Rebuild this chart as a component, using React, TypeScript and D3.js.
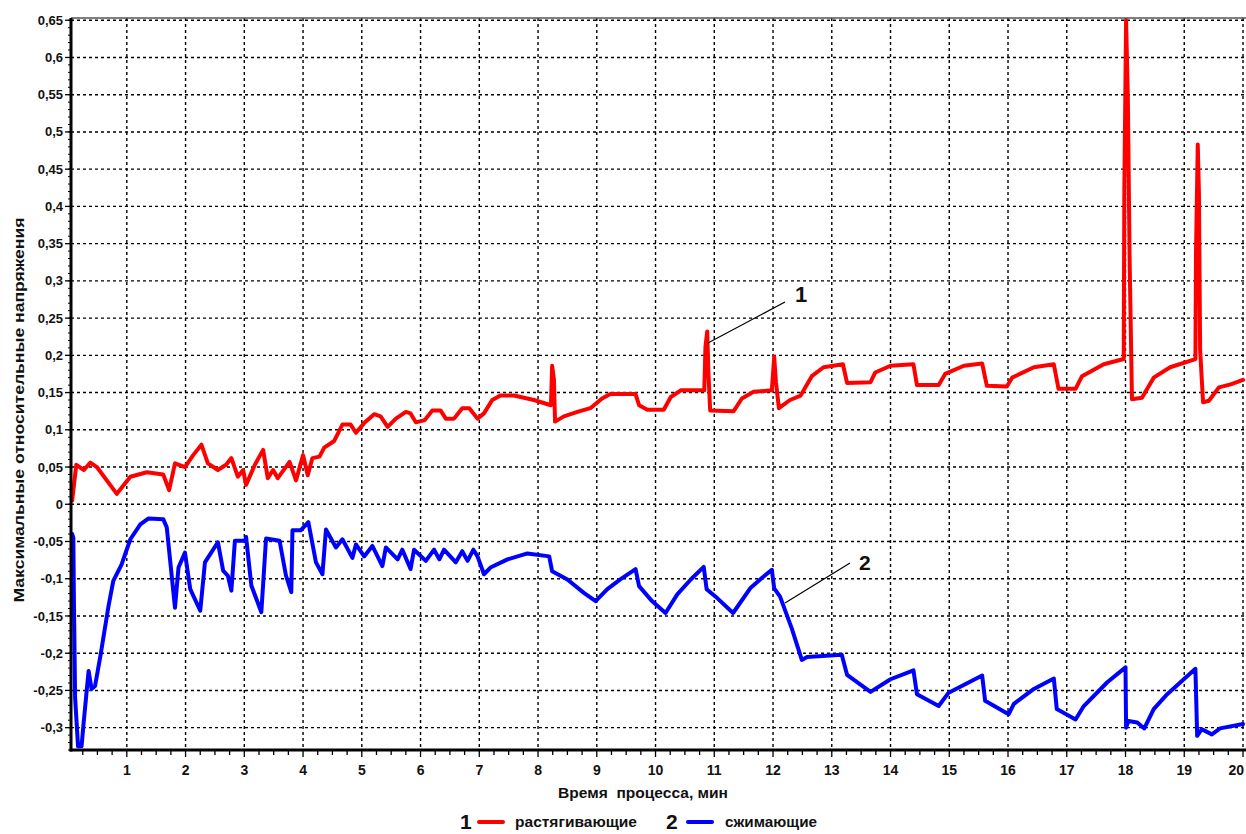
import React from "react";
import * as d3 from "d3";

const tensile: [number, number][] = [
  [0.07, 0.005], [0.14, 0.053], [0.27, 0.046], [0.38, 0.056], [0.49, 0.05], [0.83, 0.014],
  [1.06, 0.037], [1.34, 0.043], [1.62, 0.04], [1.72, 0.019], [1.82, 0.055], [1.99, 0.05],
  [2.13, 0.066], [2.27, 0.08], [2.38, 0.055], [2.55, 0.046], [2.69, 0.053], [2.78, 0.062],
  [2.89, 0.037], [2.98, 0.046], [3.03, 0.026], [3.18, 0.053], [3.32, 0.073], [3.4, 0.035],
  [3.49, 0.046], [3.57, 0.035], [3.77, 0.057], [3.88, 0.032], [4.0, 0.066], [4.08, 0.039],
  [4.16, 0.062], [4.28, 0.064], [4.36, 0.076], [4.53, 0.085], [4.67, 0.107], [4.81, 0.107],
  [4.9, 0.096], [5.04, 0.109], [5.21, 0.121], [5.32, 0.118], [5.44, 0.104], [5.58, 0.115],
  [5.75, 0.124], [5.83, 0.122], [5.92, 0.11], [6.07, 0.113], [6.2, 0.126], [6.34, 0.126],
  [6.43, 0.115], [6.57, 0.115], [6.71, 0.129], [6.83, 0.129], [6.97, 0.115], [7.08, 0.122],
  [7.22, 0.14], [7.36, 0.146], [7.59, 0.146], [7.93, 0.14], [8.22, 0.133], [8.24, 0.186],
  [8.27, 0.168], [8.29, 0.111], [8.44, 0.118], [8.67, 0.124], [8.89, 0.129], [9.09, 0.142],
  [9.23, 0.148], [9.66, 0.148], [9.72, 0.133], [9.86, 0.127], [10.14, 0.127], [10.26, 0.144],
  [10.43, 0.153], [10.83, 0.153], [10.85, 0.212], [10.88, 0.232], [10.9, 0.177], [10.93, 0.126],
  [11.33, 0.125], [11.47, 0.142], [11.67, 0.151], [11.98, 0.153], [12.02, 0.198], [12.05, 0.164],
  [12.1, 0.129], [12.29, 0.14], [12.47, 0.146], [12.66, 0.172], [12.86, 0.184], [13.19, 0.188],
  [13.26, 0.163], [13.66, 0.164], [13.74, 0.177], [14.0, 0.186], [14.39, 0.188], [14.45, 0.16],
  [14.82, 0.16], [14.93, 0.175], [15.25, 0.186], [15.56, 0.189], [15.64, 0.159], [15.98, 0.158],
  [16.07, 0.17], [16.44, 0.184], [16.78, 0.188], [16.86, 0.155], [17.15, 0.155], [17.26, 0.172],
  [17.63, 0.188], [17.97, 0.195], [17.98, 0.423], [18.01, 0.65], [18.04, 0.544], [18.07, 0.329],
  [18.11, 0.141], [18.28, 0.143], [18.48, 0.17], [18.76, 0.184], [19.19, 0.195], [19.2, 0.338],
  [19.23, 0.483], [19.25, 0.418], [19.27, 0.208], [19.32, 0.137], [19.42, 0.139], [19.59, 0.157],
  [19.79, 0.161], [20.0, 0.167],
];

const compressive: [number, number][] = [
  [0.07, -0.04], [0.09, -0.045], [0.1, -0.13], [0.12, -0.26], [0.17, -0.325], [0.23, -0.325],
  [0.26, -0.298], [0.32, -0.248], [0.35, -0.224], [0.4, -0.248], [0.46, -0.244], [0.55, -0.204],
  [0.69, -0.136], [0.77, -0.103], [0.91, -0.081], [1.06, -0.047], [1.23, -0.027], [1.37, -0.019],
  [1.62, -0.02], [1.68, -0.031], [1.82, -0.139], [1.88, -0.085], [1.99, -0.065], [2.08, -0.114],
  [2.25, -0.143], [2.33, -0.078], [2.55, -0.051], [2.64, -0.089], [2.72, -0.096], [2.78, -0.116],
  [2.84, -0.049], [3.01, -0.049], [3.03, -0.044], [3.12, -0.109], [3.29, -0.145], [3.37, -0.046],
  [3.6, -0.049], [3.71, -0.096], [3.8, -0.118], [3.82, -0.035], [3.96, -0.035], [4.09, -0.024],
  [4.22, -0.078], [4.33, -0.094], [4.39, -0.034], [4.56, -0.058], [4.67, -0.047], [4.84, -0.072],
  [4.9, -0.054], [5.04, -0.07], [5.18, -0.056], [5.35, -0.083], [5.41, -0.058], [5.61, -0.074],
  [5.69, -0.061], [5.83, -0.087], [5.89, -0.061], [6.09, -0.076], [6.23, -0.061], [6.32, -0.074],
  [6.4, -0.061], [6.6, -0.078], [6.71, -0.063], [6.8, -0.076], [6.9, -0.061], [6.97, -0.07],
  [7.08, -0.094], [7.19, -0.085], [7.48, -0.074], [7.82, -0.066], [8.19, -0.07], [8.24, -0.09],
  [8.5, -0.101], [8.78, -0.119], [8.98, -0.13], [9.18, -0.114], [9.4, -0.101], [9.66, -0.087],
  [9.72, -0.11], [9.94, -0.13], [10.17, -0.146], [10.37, -0.121], [10.6, -0.101], [10.82, -0.084],
  [10.87, -0.114], [11.05, -0.126], [11.32, -0.146], [11.62, -0.112], [11.81, -0.099], [11.98, -0.088],
  [12.02, -0.113], [12.12, -0.124], [12.32, -0.167], [12.49, -0.209], [12.58, -0.205], [13.17, -0.202],
  [13.26, -0.229], [13.66, -0.252], [14.0, -0.235], [14.39, -0.223], [14.45, -0.255], [14.82, -0.271],
  [14.99, -0.253], [15.56, -0.23], [15.61, -0.264], [16.01, -0.282], [16.1, -0.268], [16.44, -0.248],
  [16.78, -0.234], [16.83, -0.275], [17.15, -0.289], [17.29, -0.271], [17.69, -0.239], [18.0, -0.219],
  [18.01, -0.3], [18.05, -0.291], [18.2, -0.293], [18.32, -0.301], [18.48, -0.275], [18.71, -0.255],
  [19.19, -0.221], [19.22, -0.311], [19.3, -0.302], [19.47, -0.309], [19.61, -0.301], [20.0, -0.295],
];

const xTicks = d3.range(1, 21);
const xMinorTicks = d3.range(1, 81).map((i) => i * 0.25);
const yTicks = d3.range(-6, 14).map((k) => +(k * 0.05).toFixed(2));
const yMinorTicks = d3.range(-33, 66).map((k) => +(k * 0.01).toFixed(2));

const yTitle = "Максимальные относительные напряжения";
const xTitle = "Время  процесса, мин";
const seriesNames = ["растягивающие", "сжимающие"];
const seriesColors = ["#ff0000", "#0000ff"];

const W = 1246;
const H = 834;
const L = 71;
const R = 1243;
const T = 18;
const B = 750;

const FONT = "'Liberation Sans', Arial, sans-serif";

export default function App() {
  const x = d3.scaleLinear().domain([0.05, 20]).range([L, R]);
  const y = d3.scaleLinear().domain([-0.33, 0.653]).range([B, T]);
  const line = d3
    .line<[number, number]>()
    .x((d) => x(d[0]))
    .y((d) => y(d[1]));
  const fmt = (v: number) => String(v).replace(".", ",");

  return (
    <svg
      width={W}
      height={H}
      style={{ position: "absolute", left: 0, top: 0, background: "#fff" }}
      fontFamily={FONT}
    >
      <defs>
        <clipPath id="plot">
          <rect x={L} y={T} width={W - L} height={B - T} />
        </clipPath>
      </defs>
      <rect x={0} y={0} width={W} height={H} fill="#fff" />
      {/* grid */}
      <g stroke="#000" strokeWidth={1.4} strokeDasharray="3,3">
        {yTicks.map((v) => (
          <line key={"gy" + v} x1={L} x2={W} y1={y(v)} y2={y(v)} />
        ))}
        {xTicks.map((v) => (
          <line key={"gx" + v} x1={x(v)} x2={x(v)} y1={T} y2={B} />
        ))}
      </g>
      {/* top frame */}
      <line x1={L} x2={W} y1={T} y2={T} stroke="#555" strokeWidth={1.5} />
      {/* series */}
      <g clipPath="url(#plot)" fill="none" strokeWidth={4} strokeLinejoin="round" strokeLinecap="round">
        <path d={line(compressive) || ""} stroke={seriesColors[1]} />
        <path d={line(tensile) || ""} stroke={seriesColors[0]} />
      </g>
      {/* axes */}
      <g stroke="#000">
        {xMinorTicks.map((v) => (
          <line key={"mx" + v} x1={x(v)} x2={x(v)} y1={B} y2={B + (Number.isInteger(v) ? 7 : 5)} strokeWidth={1.3} />
        ))}
        {yMinorTicks.map((v) => (
          <line key={"my" + v} x1={L - 3} x2={L} y1={y(v)} y2={y(v)} strokeWidth={1} />
        ))}
        {yTicks.map((v) => (
          <line key={"ty" + v} x1={L - 6} x2={L} y1={y(v)} y2={y(v)} strokeWidth={1.3} />
        ))}
        <line x1={L} x2={L} y1={T} y2={B + 1.5} strokeWidth={3} />
        <line x1={L - 1.5} x2={W} y1={B} y2={B} strokeWidth={3} />
      </g>
      {/* tick labels */}
      <g fontSize={13} fontWeight="bold" fill="#111" textAnchor="end">
        {yTicks.map((v) => (
          <text key={"ly" + v} x={L - 8} y={y(v)} dy="0.35em">
            {fmt(v)}
          </text>
        ))}
      </g>
      <g fontSize={14} fontWeight="bold" fill="#111">
        {xTicks.map((v) => (
          <text
            key={"lx" + v}
            x={v === 20 ? W - 2 : x(v)}
            y={775}
            textAnchor={v === 20 ? "end" : "middle"}
          >
            {v}
          </text>
        ))}
      </g>
      {/* titles */}
      <text
        transform={`translate(24,410) rotate(-90)`}
        textAnchor="middle"
        fontSize={14}
        fontWeight="bold"
        fill="#111"
        textLength={385}
        lengthAdjust="spacingAndGlyphs"
      >
        {yTitle}
      </text>
      <text
        x={643}
        y={798}
        textAnchor="middle"
        fontSize={15}
        fontWeight="bold"
        fill="#111"
        style={{ whiteSpace: "pre" }}
        textLength={170}
        lengthAdjust="spacingAndGlyphs"
      >
        {xTitle}
      </text>
      {/* annotations */}
      <line x1={708} y1={343} x2={785} y2={302} stroke="#000" strokeWidth={1.2} />
      <text x={795} y={302} fontSize={22} fontWeight="bold" fill="#111">1</text>
      <line x1={785} y1={603} x2={850} y2={563} stroke="#000" strokeWidth={1.2} />
      <text x={859} y={570} fontSize={21} fontWeight="bold" fill="#111">2</text>
      {/* legend */}
      <g fontWeight="bold" fill="#111">
        <text x={460} y={829} fontSize={21}>1</text>
        <line x1={479} x2={503} y1={822} y2={822} stroke={seriesColors[0]} strokeWidth={4} strokeLinecap="round" />
        <text x={515} y={827} fontSize={15} textLength={122} lengthAdjust="spacingAndGlyphs">{seriesNames[0]}</text>
        <text x={666} y={829} fontSize={21}>2</text>
        <line x1={688} x2={712} y1={822} y2={822} stroke={seriesColors[1]} strokeWidth={4} strokeLinecap="round" />
        <text x={725} y={827} fontSize={15} textLength={92} lengthAdjust="spacingAndGlyphs">{seriesNames[1]}</text>
      </g>
    </svg>
  );
}
